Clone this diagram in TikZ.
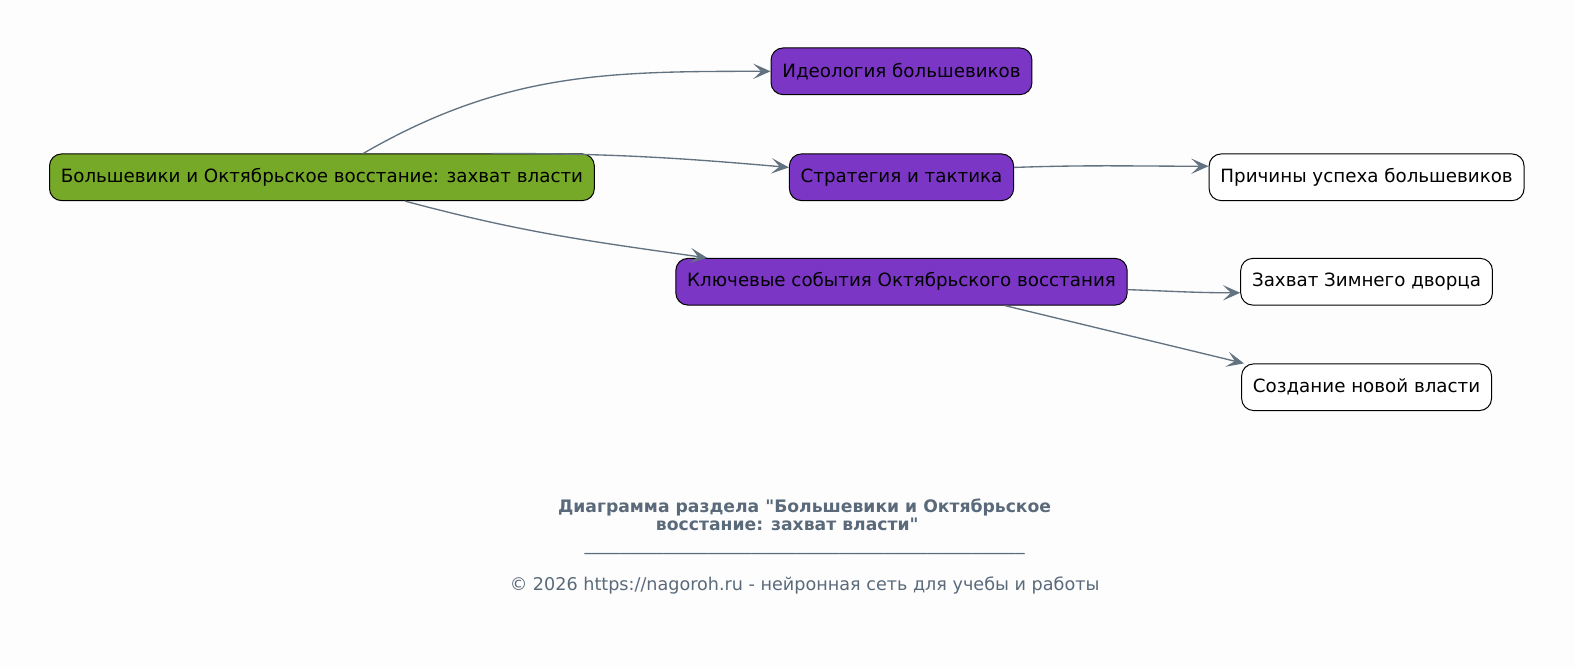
\documentclass[tikz,border=0pt]{standalone}
\usepackage{fontspec}
\setmainfont{DejaVu Sans}[Ligatures=TeXOff]
\usepackage{tikz}
\usetikzlibrary{arrows.meta}
\definecolor{rootgreen}{RGB}{118,169,40}
\definecolor{topicviolet}{RGB}{123,54,198}
\definecolor{edgegray}{RGB}{98,114,128}
\definecolor{footgray}{RGB}{90,106,122}
\definecolor{pagebg}{RGB}{253,253,253}
\tikzset{
  box/.style={draw=black,line width=0.75pt,rounded corners=9pt,minimum height=35pt,
    inner xsep=8.5pt,font=\fontsize{13.7}{16}\selectfont,text=black},
  rootbox/.style={box,fill=rootgreen},
  topicbox/.style={box,fill=topicviolet},
  leafbox/.style={box,fill=white},
  link/.style={draw=edgegray,line width=1pt,-{Stealth[length=13pt,width=11.5pt,inset=6pt]}},
  foot/.style={text=footgray,font=\fontsize{13.2}{15}\selectfont}
}

\begin{document}
\begin{tikzpicture}[x=0.7534pt,y=0.7534pt]
  \fill[pagebg] (0,0) rectangle (1568,665);
  \useasboundingbox (0,0) rectangle (1568,665);
  % nodes
  \node[rootbox] (root) at (320.5,488.5) {Большевики и Октябрьское восстание: захват власти};
  \node[topicbox] (ideol) at (897.5,594) {Идеология большевиков};
  \node[topicbox] (strat) at (897.5,488.5) {Стратегия и тактика};
  \node[topicbox] (events) at (897.5,384.5) {Ключевые события Октябрьского восстания};
  \node[leafbox] (causes) at (1360.5,488.5) {Причины успеха большевиков};
  \node[leafbox] (palace) at (1360.5,384.5) {Захват Зимнего дворца};
  \node[leafbox] (newpower) at (1360.5,279.5) {Создание новой власти};
  % links
  \draw[link] (root.30) to[out=30,in=180] (ideol.west);
  \draw[link] (root.8.5) to[out=0,in=175] (strat.175);
  \draw[link] (root.-16.5) to[out=-15,in=172] (events.173);
  \draw[link] (strat.5) to[out=2,in=180] (causes.176);
  \draw[link] (events.-2.4) to[out=-2,in=180] (palace.-175);
  \draw[link] (events.-13.5) -- (newpower.169);
  % footer
  \node[foot,font=\fontsize{12.9}{13}\bfseries,align=center] (title) at (801,152.5)
    {Диаграмма раздела "Большевики и Октябрьское\\восстание: захват власти"\hspace*{26pt}};
  \node[foot] (sep) at (801,115) {\_\_\_\_\_\_\_\_\_\_\_\_\_\_\_\_\_\_\_\_\_\_\_\_\_\_\_\_\_\_\_\_\_\_\_\_\_\_\_\_\_\_\_\_\_\_\_\_\_\_};
  \node[foot] (copy) at (801,82) {© 2026 https://nagoroh.ru - нейронная сеть для учебы и работы};
\end{tikzpicture}
\end{document}
